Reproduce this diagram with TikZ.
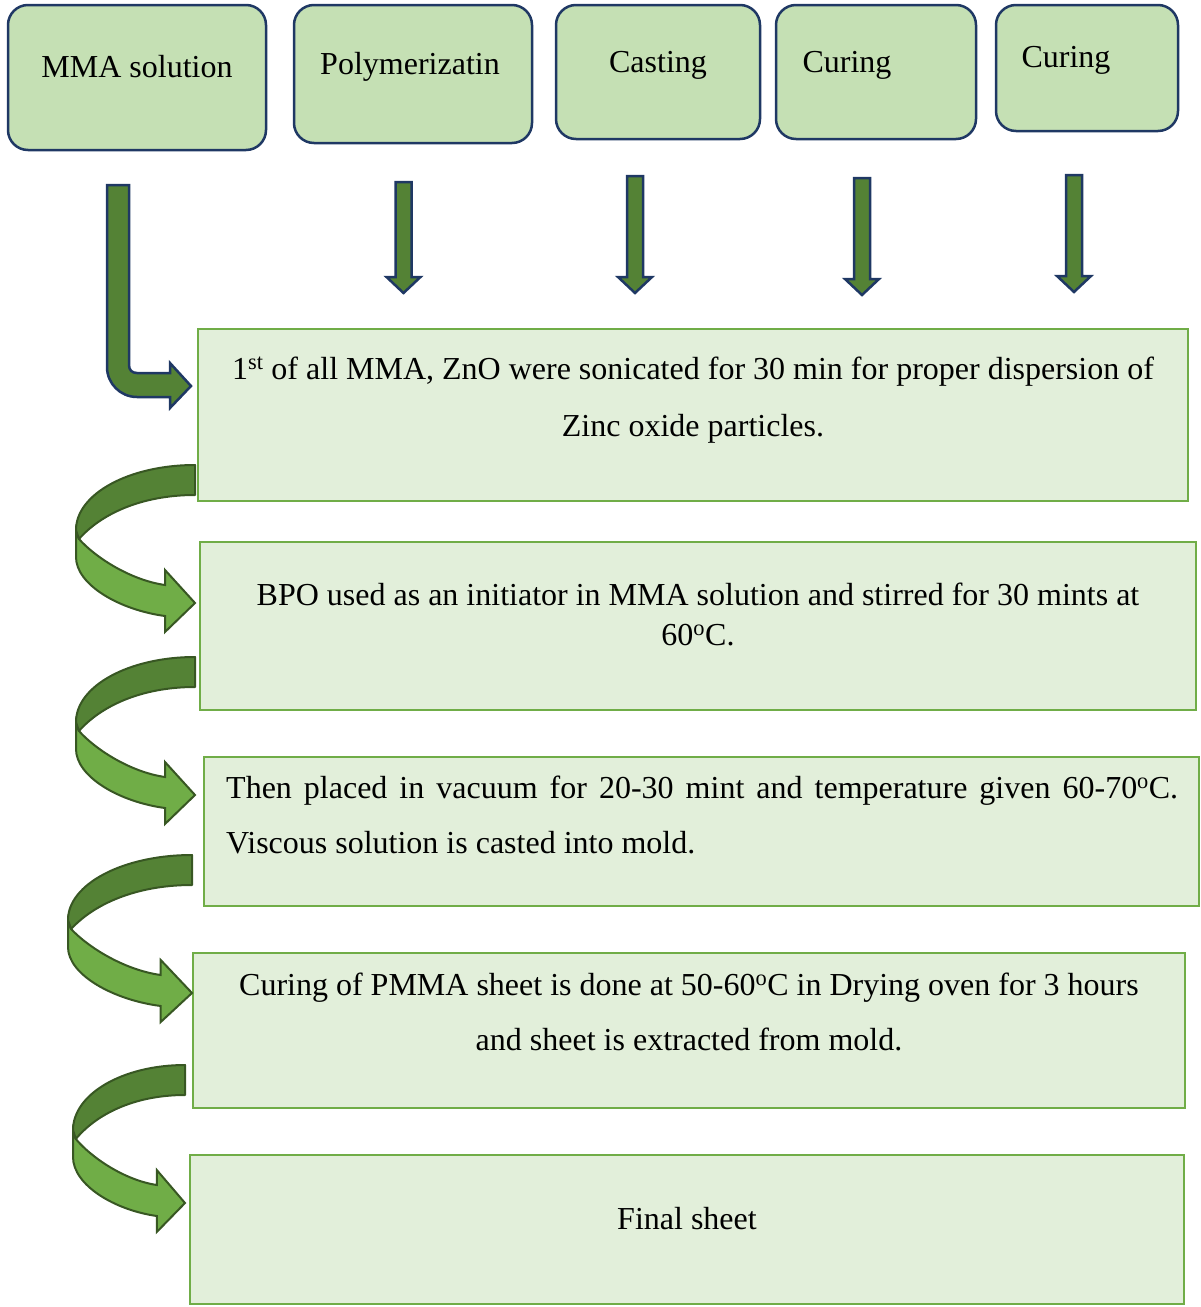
\documentclass[tikz,border=0pt]{standalone}
\usepackage{fontspec}
\setmainfont{Liberation Serif}
\definecolor{topfill}{HTML}{C5E0B4}
\definecolor{navy}{HTML}{1F3864}
\definecolor{boxfill}{HTML}{E2EFDA}
\definecolor{boxdraw}{HTML}{70AD47}
\definecolor{darkgreen}{HTML}{548235}
\definecolor{lightgreen}{HTML}{70AD47}
\definecolor{edgegreen}{HTML}{385723}
\tikzset{
  topbox/.style={draw=navy, fill=topfill, line width=2.5pt, rounded corners=20pt, inner sep=0pt, outer sep=0pt, anchor=north west},
  stepbox/.style={draw=boxdraw, fill=boxfill, line width=2.5pt, inner sep=0pt, outer sep=0pt, anchor=north west},
  txt/.style={font=\fontsize{32pt}{38pt}\selectfont, anchor=base, inner sep=0pt},
  downarr/.style={draw=navy, fill=darkgreen, line width=2.5pt, line join=miter},
  backband/.style={draw=edgegreen, fill=darkgreen, line width=2pt, line join=round},
  frontband/.style={draw=edgegreen, fill=lightgreen, line width=2pt, line join=miter},
}
\newcommand{\dnarrow}[3]{%
  \filldraw[downarr] ({#1-8},#2) -- ({#1+8},#2) -- ({#1+8},{#3-16}) -- ({#1+17},{#3-16})
    -- (#1,#3) -- ({#1-17},{#3-16}) -- ({#1-8},{#3-16}) -- cycle;}
\newcommand{\curvedarrow}[3]{%
  \begin{scope}[shift={(#1,#2)}, xscale=#3]
    \filldraw[frontband] (-119,65) -- (-119,92) .. controls (-119,120) and (-75,145) .. (-30,151)
      -- (-30,167) -- (0,138) -- (-30,105) -- (-30,120)
      .. controls (-65,115) and (-100,92) .. (-116,74) -- cycle;
    \filldraw[backband] (0,0) .. controls (-66,0) and (-119,29) .. (-119,65) -- (-116,74)
      .. controls (-95,50) and (-55,30) .. (0,30) -- cycle;
  \end{scope}}
\begin{document}
\begin{tikzpicture}[x=1pt,y=-1pt]
\useasboundingbox (0,0) rectangle (1200,1307);
% top boxes
\node[topbox, minimum width=258pt, minimum height=145pt] (b1) at (8,5) {};
\node[topbox, minimum width=238pt, minimum height=138pt] (b2) at (294,5) {};
\node[topbox, minimum width=204pt, minimum height=134pt] (b3) at (556,5) {};
\node[topbox, minimum width=200pt, minimum height=134pt] (b4) at (776,5) {};
\node[topbox, minimum width=182pt, minimum height=126pt] (b5) at (996,5) {};
\node[txt] (l1) at (137,77) {MMA solution};
\node[txt] (l2) at (410,74) {Polymerizatin};
\node[txt] (l3) at (658,72) {Casting};
\node[txt] (l4) at (847,72) {Curing};
\node[txt] (l5) at (1066,67) {Curing};
% step boxes
\node[stepbox, minimum width=990pt, minimum height=172pt] (r1) at (198,329) {};
\node[stepbox, minimum width=996pt, minimum height=168pt] (r2) at (200,542) {};
\node[stepbox, minimum width=995pt, minimum height=149pt] (r3) at (204,757) {};
\node[stepbox, minimum width=992pt, minimum height=155pt] (r4) at (193,953) {};
\node[stepbox, minimum width=994pt, minimum height=149pt] (r5) at (190,1155) {};
\node[txt] (t1a) at (693,379) {1\textsuperscript{st} of all MMA, ZnO were sonicated for 30 min for proper dispersion of};
\node[txt] (t1b) at (693,436) {Zinc oxide particles.};
\node[txt] (t2a) at (698,605) {BPO used as an initiator in MMA solution and stirred for 30 mints at};
\node[txt] (t2b) at (698,645) {60\textsuperscript{o}C.};
\node[txt, anchor=base west] (t3a) at (226,798) {\makebox[952pt][s]{Then placed in vacuum for 20-30 mint and temperature given 60-70\textsuperscript{o}C.}};
\node[txt, anchor=base west] (t3b) at (226,853) {Viscous solution is casted into mold.};
\node[txt] (t4a) at (689,995) {Curing of PMMA sheet is done at 50-60\textsuperscript{o}C in Drying oven for 3 hours};
\node[txt] (t4b) at (689,1050) {and sheet is extracted from mold.};
\node[txt] (t5) at (687,1229) {Final sheet};
% down arrows
\dnarrow{403.5}{182}{293}
\dnarrow{635}{176}{293}
\dnarrow{862}{178}{295}
\dnarrow{1074}{175}{292}
% bent arrow
\filldraw[downarr] (107,185) -- (129,185) -- (129,365) .. controls (129,370) and (132,373) .. (137,373)
  -- (170,373) -- (170,363) -- (191,386) -- (170,408) -- (170,397) -- (137,397)
  .. controls (120.4,397) and (107,383.6) .. (107,367) -- cycle;
% curved arrows
\curvedarrow{195}{465}{1}
\curvedarrow{195}{657}{1}
\curvedarrow{192}{855}{1.042}
\curvedarrow{185}{1065}{0.941}
\end{tikzpicture}
\end{document}
